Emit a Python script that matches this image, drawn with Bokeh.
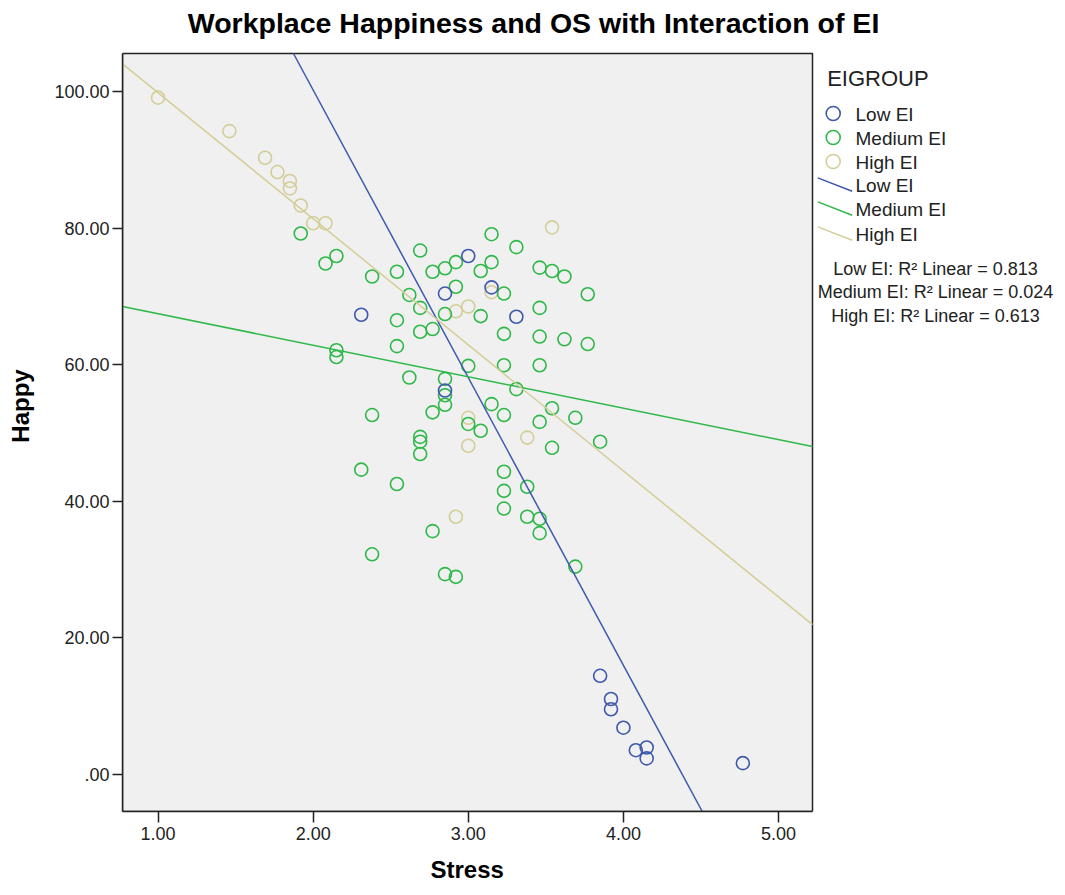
import numpy as np
from bokeh.plotting import figure
from bokeh.models import Range1d, FixedTicker, BoxAnnotation, Title
from bokeh.embed import file_html
from bokeh.resources import INLINE
from bokeh.core.properties import value

# ---------------- data ----------------
groups = ["Low EI", "Medium EI", "High EI"]
colors = ["#3E58AC", "#2EB848", "#D3CE97"]

low_stress = [2.31, 2.85, 3.00, 3.15, 3.31, 2.85, 3.85, 3.92, 3.92, 4.00, 4.08, 4.15, 4.15, 4.77]
low_happy = [67.3, 70.4, 75.9, 71.3, 67.0, 56.2, 14.4, 11.0, 9.5, 6.8, 3.5, 3.9, 2.3, 1.6]

med_stress = [1.92, 2.08, 2.15, 2.38, 2.54, 2.69, 2.77, 2.85, 2.92, 3.08,
              3.15, 3.15, 3.31, 3.46, 3.54, 3.62, 3.77, 2.92, 3.23, 2.62,
              2.69, 2.85, 3.08, 3.46, 2.54, 2.69, 2.77, 3.23, 3.46, 3.62,
              3.77, 2.54, 2.15, 2.15, 3.00, 3.23, 3.46, 2.62, 2.85, 2.85,
              3.31, 3.15, 3.23, 2.77, 2.85, 2.38, 3.54, 3.69, 3.46, 3.00,
              3.08, 2.69, 2.69, 2.69, 3.54, 3.85, 2.31, 2.54, 3.23, 3.23,
              3.23, 3.38, 3.38, 3.46, 3.46, 2.77, 2.38, 3.69, 2.85, 2.92]
med_happy = [79.2, 74.8, 75.9, 72.9, 73.6, 76.7, 73.6, 74.1, 75.0, 73.7,
             75.0, 79.1, 77.2, 74.2, 73.7, 72.9, 70.3, 71.4, 70.4, 70.2,
             68.3, 67.4, 67.1, 68.3, 66.5, 64.8, 65.2, 64.5, 64.1, 63.7,
             63.0, 62.7, 62.1, 61.1, 59.8, 59.9, 59.9, 58.1, 57.9, 55.5,
             56.4, 54.2, 52.6, 53.0, 54.1, 52.6, 53.6, 52.2, 51.6, 51.3,
             50.3, 49.4, 48.7, 46.9, 47.8, 48.7, 44.6, 42.5, 44.3, 41.5,
             38.9, 42.1, 37.7, 37.4, 35.3, 35.6, 32.2, 30.4, 29.3, 28.9]

high_stress = [1.00, 1.46, 1.69, 1.77, 1.85, 1.85, 1.92, 2.00, 2.08, 3.54,
               3.15, 2.92, 3.00, 3.00, 3.38, 3.00, 2.92]
high_happy = [99.1, 94.2, 90.3, 88.2, 86.9, 85.8, 83.3, 80.7, 80.7, 80.1,
              70.6, 67.8, 68.5, 52.2, 49.3, 48.1, 37.7]

# fitted linear lines and their R^2
fit_intercept = [184.5, 72.05, 118.3]
fit_slope = [-42.14, -4.61, -18.47]
r2_values = ["0.813", "0.024", "0.613"]

x_ticks = [1, 2, 3, 4, 5]
x_tick_labels = ["1.00", "2.00", "3.00", "4.00", "5.00"]
y_ticks = [0, 20, 40, 60, 80, 100]
y_tick_labels = [".00", "20.00", "40.00", "60.00", "80.00", "100.00"]

title_text = "Workplace  Happiness and OS with Interaction of EI"
x_label = "Stress"
y_label = "Happy"
legend_title = "EIGROUP"

# ---------------- geometry / style ----------------
FONT = "Liberation Sans"
W, H = 1065, 895
B_LEFT, B_BOTTOM = 122, 84
FRAME_W, FRAME_H = W - B_LEFT, H - B_BOTTOM
PA_TOP, PA_W = 53, 690            # plot-area top (canvas px) and width
X0, X1 = 0.771, 5.219             # plot-area data extent
Y0, Y1 = -5.48, 105.57
SX = PA_W / (X1 - X0)
SY = (FRAME_H - PA_TOP) / (Y1 - Y0)
XE = X0 + FRAME_W / SX            # frame extends right for the legend
YT = Y1 + PA_TOP / SY             # and up for the title


def dx(cx):
    return X0 + (cx - B_LEFT) / SX


def dy(cy):
    return YT - cy / SY


p = figure(width=W, height=H, x_range=Range1d(X0, XE), y_range=Range1d(Y0, YT),
           output_backend="svg", toolbar_location=None, title=None,
           min_border_left=B_LEFT, min_border_right=0, min_border_top=0,
           min_border_bottom=B_BOTTOM,
           background_fill_color="white", border_fill_color="white",
           outline_line_color=None)
p.xgrid.visible = False
p.ygrid.visible = False

p.add_layout(BoxAnnotation(left=X0, right=X1, bottom=Y0, top=Y1,
                           fill_color="#F0F0F0", fill_alpha=1.0,
                           line_color="#222222", line_width=1.5, line_alpha=1.0,
                           level="underlay"))

for ax in (p.xaxis[0], p.yaxis[0]):
    ax.axis_line_color = "#222222"
    ax.axis_line_width = 1.5
    ax.major_tick_line_color = "#222222"
    ax.major_tick_line_width = 1.5
    ax.major_tick_in = 0
    ax.minor_tick_line_color = None
    ax.major_label_text_font = FONT
    ax.major_label_text_font_size = "18px"
    ax.major_label_text_color = "#222222"
    ax.axis_label_text_font = FONT
    ax.axis_label_text_font_size = "24px"
    ax.axis_label_text_font_style = "bold"
    ax.axis_label_text_color = "black"

p.xaxis.bounds = (X0, X1)
p.xaxis.ticker = FixedTicker(ticks=x_ticks)
p.xaxis.major_label_overrides = dict(zip(x_ticks, x_tick_labels))
p.xaxis.major_tick_out = 11
p.xaxis.major_label_standoff = 4

p.yaxis.bounds = (Y0, Y1)
p.yaxis.ticker = FixedTicker(ticks=y_ticks)
p.yaxis.major_label_overrides = dict(zip(y_ticks, y_tick_labels))
p.yaxis.axis_label = y_label
p.yaxis.major_tick_out = 10
p.yaxis.major_label_standoff = 3
p.yaxis.axis_label_standoff = 17

# x-axis title, centred under the plot area (placed as a below-panel title)
p.add_layout(Title(text=x_label, text_font=FONT, text_font_size="24px",
                   text_font_style="bold", text_color="black",
                   align="left", offset=467 - B_LEFT - 37, standoff=22), "below")

series = [(low_stress, low_happy), (med_stress, med_happy), (high_stress, high_happy)]
for i in (2, 1, 0):
    xs, ys = series[i]
    p.scatter(x=xs, y=ys, marker="circle", size=13, fill_color=None,
              line_color=colors[i], line_width=1.6)

# fit lines, clipped to the plot area
for i in range(3):
    a, b = fit_intercept[i], fit_slope[i]
    xa = max(X0, (Y1 - a) / b)
    xb = min(X1, (Y0 - a) / b)
    lx = np.array([xa, xb])
    p.line(x=lx, y=a + b * lx, line_color=colors[i], line_width=1.5)

# title
p.text(x=[dx(537)], y=[dy(22)], text=[title_text], text_font=value(FONT),
       text_font_size="28.5px", text_font_style="bold", text_color="black",
       text_align="center", text_baseline="middle")

# ---------------- legend ----------------
p.text(x=[dx(826.7)], y=[dy(77.7)], text=[legend_title], text_font=value(FONT),
       text_font_size="22px", text_baseline="middle", text_align="left", text_color="#222222")

row_y = [113, 137, 161, 184, 208, 233]
p.scatter(x=[dx(832.7)] * 3, y=[dy(v) for v in row_y[:3]], marker="circle", size=14,
          fill_color=None, line_color=colors, line_width=1.6)
p.segment(x0=[dx(817.3)] * 3, y0=[dy(v - 6.6) for v in row_y[3:]],
          x1=[dx(851.7)] * 3, y1=[dy(v + 6.7) for v in row_y[3:]],
          line_color=colors, line_width=1.5)
p.text(x=[dx(855)] * 6, y=[dy(v + 1) for v in row_y], text=groups + groups,
       text_font=value(FONT), text_font_size="19px", text_baseline="middle",
       text_align="left", text_color="#222222")

r2_text = [f"{g}: R\u00b2 Linear = {r}" for g, r in zip(groups, r2_values)]
p.text(x=[dx(935)] * 3, y=[dy(v) for v in (268.3, 291.7, 315)], text=r2_text,
       text_font=value(FONT), text_font_size="18px", text_baseline="middle",
       text_align="center", text_color="#222222")

open("out.html", "w").write(file_html(p, INLINE))
